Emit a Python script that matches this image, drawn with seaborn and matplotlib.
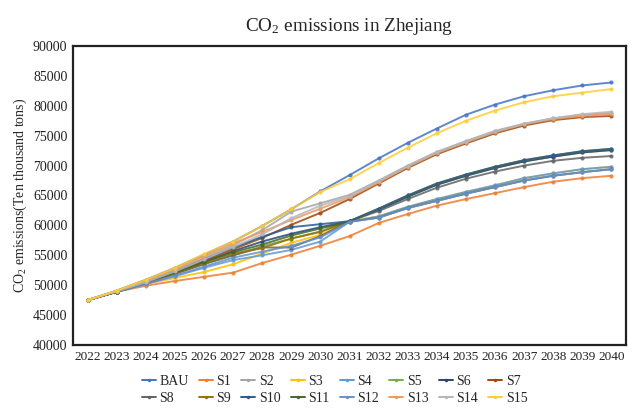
import numpy as np
import pandas as pd
import seaborn as sns
import matplotlib
import matplotlib.pyplot as plt

matplotlib.use("agg")

years = list(range(2022, 2041))

scenarios = ["BAU", "S1", "S2", "S3", "S4", "S5", "S6", "S7",
             "S8", "S9", "S10", "S11", "S12", "S13", "S14", "S15"]

colors = ["#4472C4", "#ED7D31", "#A5A5A5", "#FFC000", "#5B9BD5", "#70AD47",
          "#264478", "#9E480E", "#636363", "#997300", "#255E91", "#43682B",
          "#698ED0", "#F1975A", "#B7B7B7", "#FFCD33"]

# CO2 emissions, ten thousand tons, 2022-2040
bau = [47500, 49100, 50900, 52900, 55100, 57300, 59900, 62700, 65700, 68400,
       71200, 73800, 76200, 78500, 80200, 81600, 82600, 83400, 83900]
s1 = [47500, 48900, 49900, 50700, 51400, 52100, 53700, 55100, 56600, 58200,
      60400, 61900, 63300, 64400, 65400, 66400, 67300, 67900, 68300]
s2 = [47500, 49000, 50600, 52400, 54500, 56700, 59200, 62300, 63700, 65100,
      67500, 70000, 72300, 74100, 75800, 77000, 77900, 78500, 78800]
s4 = [47500, 48900, 50200, 51500, 52900, 54200, 55000, 55900, 57300, 60600,
      61500, 63100, 64400, 65600, 66700, 67900, 68700, 69400, 69800]
s3 = [47500, 49000, 50200, 51200, 52200, 53500, 55300, 57100, 58400, 60700,
      61500, 63100, 64400, 65600, 66700, 67900, 68700, 69400, 69800]
s6 = [47500, 48900, 50300, 52000, 53900, 55700, 57300, 58600, 59700, 60700,
      62600, 64800, 66800, 68300, 69600, 70700, 71500, 72200, 72600]
s5 = [47500, 48900, 50300, 51900, 53600, 55000, 56500, 57800, 59000, 60700,
      62600, 64800, 66800, 68300, 69600, 70700, 71500, 72200, 72600]
s7 = [47500, 48900, 50400, 52100, 54100, 56000, 57900, 60100, 62100, 64400,
      67000, 69600, 71900, 73700, 75400, 76700, 77600, 78100, 78300]
s8 = [47500, 48900, 50300, 51900, 53500, 55000, 56300, 56300, 58200, 60700,
      62400, 64400, 66300, 67800, 69000, 70000, 70800, 71300, 71600]
s10 = [47500, 48900, 50500, 52300, 54300, 56300, 58100, 59700, 60200, 60700,
       62800, 65000, 67000, 68500, 69800, 70900, 71700, 72400, 72800]
s9 = [47500, 48900, 50400, 52000, 53700, 55300, 56200, 57800, 58900, 60700,
      62800, 65000, 67000, 68500, 69800, 70900, 71700, 72400, 72800]
s12 = [47500, 48900, 50200, 51600, 53100, 54600, 55600, 56600, 58000, 60600,
       61300, 62900, 64100, 65300, 66400, 67500, 68300, 68900, 69400]
s11 = [47500, 48900, 50400, 52100, 53900, 55500, 56800, 58300, 59500, 60600,
       61300, 62900, 64100, 65300, 66400, 67500, 68300, 68900, 69400]
s13 = [47500, 49000, 50700, 52600, 54800, 57000, 58900, 60900, 62800, 64700,
       67200, 69800, 72100, 73900, 75600, 76900, 77800, 78300, 78600]
s14 = [47500, 49000, 50500, 52300, 54300, 56400, 58500, 61200, 63300, 64900,
       67400, 69900, 72200, 74000, 75700, 77000, 77900, 78600, 79000]
s15 = [47500, 49100, 50900, 52900, 55200, 57300, 59900, 62700, 65600, 67700,
       70400, 73000, 75400, 77500, 79200, 80600, 81600, 82200, 82800]

series = [bau, s1, s2, s3, s4, s5, s6, s7, s8, s9, s10, s11, s12, s13, s14, s15]

rows = []
for name, vals in zip(scenarios, series):
    for y, v in zip(years, vals):
        rows.append({"year": y, "value": v, "scenario": name})
df = pd.DataFrame(rows)

sns.set_theme(style="white")
plt.rcParams["font.family"] = ["Liberation Serif", "DejaVu Serif"]
plt.rcParams["mathtext.fontset"] = "custom"
plt.rcParams["mathtext.rm"] = "Liberation Serif"
plt.rcParams["mathtext.it"] = "Liberation Serif:italic"

fig = plt.figure(figsize=(6.39, 4.15), dpi=100)
ax = fig.add_axes([0.1142, 0.1687, 0.8655, 0.7205])

sns.lineplot(data=df, x="year", y="value", hue="scenario", hue_order=scenarios,
             palette=colors, marker="o", markersize=3, markeredgewidth=0,
             linewidth=1.4, alpha=0.85, ax=ax, legend=False)

ax.set_xlim(2021.5, 2040.5)
ax.set_ylim(40000, 90000)
ax.set_xticks(years)
ax.set_xticklabels([str(y) for y in years], fontsize=9.5)
ax.set_yticks(np.arange(40000, 90001, 5000))
ax.set_yticklabels([str(v) for v in range(40000, 90001, 5000)], fontsize=10)
ax.tick_params(axis="both", length=0, pad=4, colors="#222222")
ax.set_xlabel("")
ax.set_ylabel("CO$_2$ emissions(Ten thousand tons)", fontsize=10, labelpad=3)
ax.set_title("CO$_2$ emissions in Zhejiang", fontsize=13.8, pad=11)

for sp in ax.spines.values():
    sp.set_color("#222222")
    sp.set_linewidth(1.6)

# legend is filled row by row, two rows of eight
handles = [plt.Line2D([], [], color=c, marker="o", markersize=2.5,
                      markeredgewidth=0, linewidth=1.4) for c in colors]
order = [i for j in range(8) for i in (j, j + 8)]
ax.legend([handles[i] for i in order], [scenarios[i] for i in order],
          ncol=8, loc="upper center", bbox_to_anchor=(0.473, -0.068),
          frameon=False, fontsize=10, handlelength=1.0, handletextpad=0.25,
          columnspacing=0.75, labelspacing=0.3, borderpad=0.2)

fig.savefig("out.png", dpi=100)
